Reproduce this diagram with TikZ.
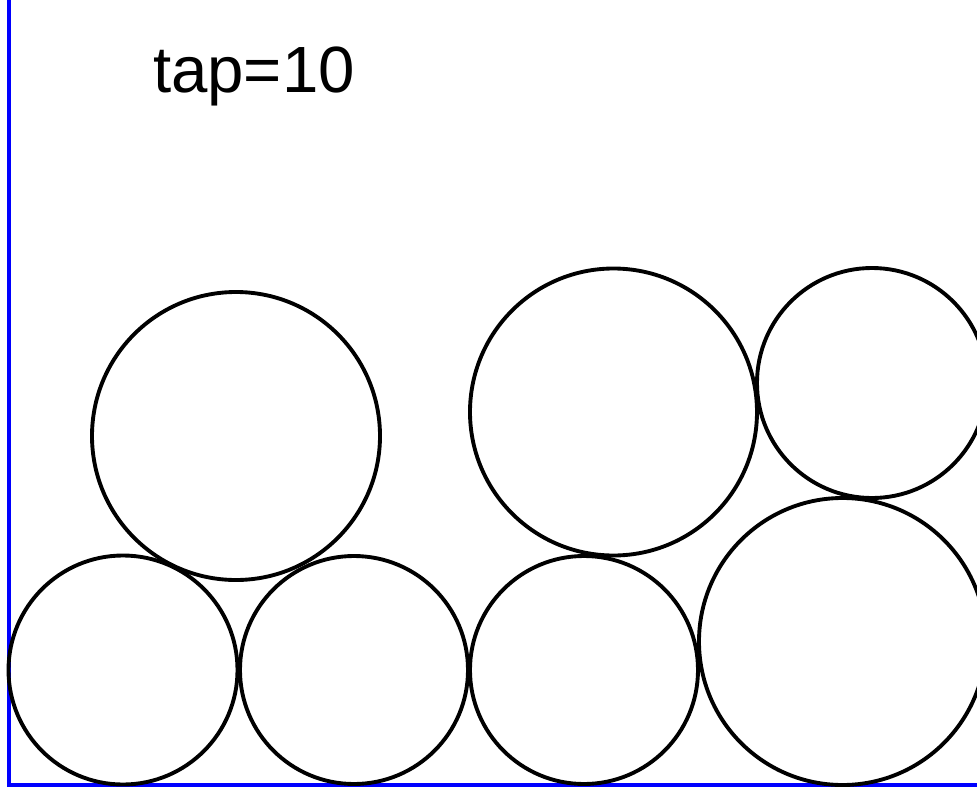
\documentclass[tikz,border=0pt]{standalone}
\usepackage{fontspec}
\setmainfont{Liberation Sans}
\begin{document}
\begin{tikzpicture}[x=0.1mm,y=-0.1mm]
      \tikzset{ball/.style={draw, line width=1.1pt},
               wall/.style={draw=blue, line width=1.2pt}}
      \useasboundingbox (0,0) rectangle (977,787);
      \node[font=\fontsize{18.6pt}{21pt}\selectfont, anchor=base] (tap) at (254,92) {tap=10};
      \draw[wall] (9,0) -- (9,785) -- (977,785);
      % bottom row
      \draw[ball] (123,670) circle (114.5);
      \draw[ball] (354,670) circle (114);
      \draw[ball] (584,670) circle (114);
      \draw[ball] (842.5,641.5) circle (143.5);
      % upper row
      \draw[ball] (236,436) circle (144);
      \draw[ball] (613.5,412) circle (143.5);
      \draw[ball] (872,383) circle (115);
    \end{tikzpicture}
\end{document}
